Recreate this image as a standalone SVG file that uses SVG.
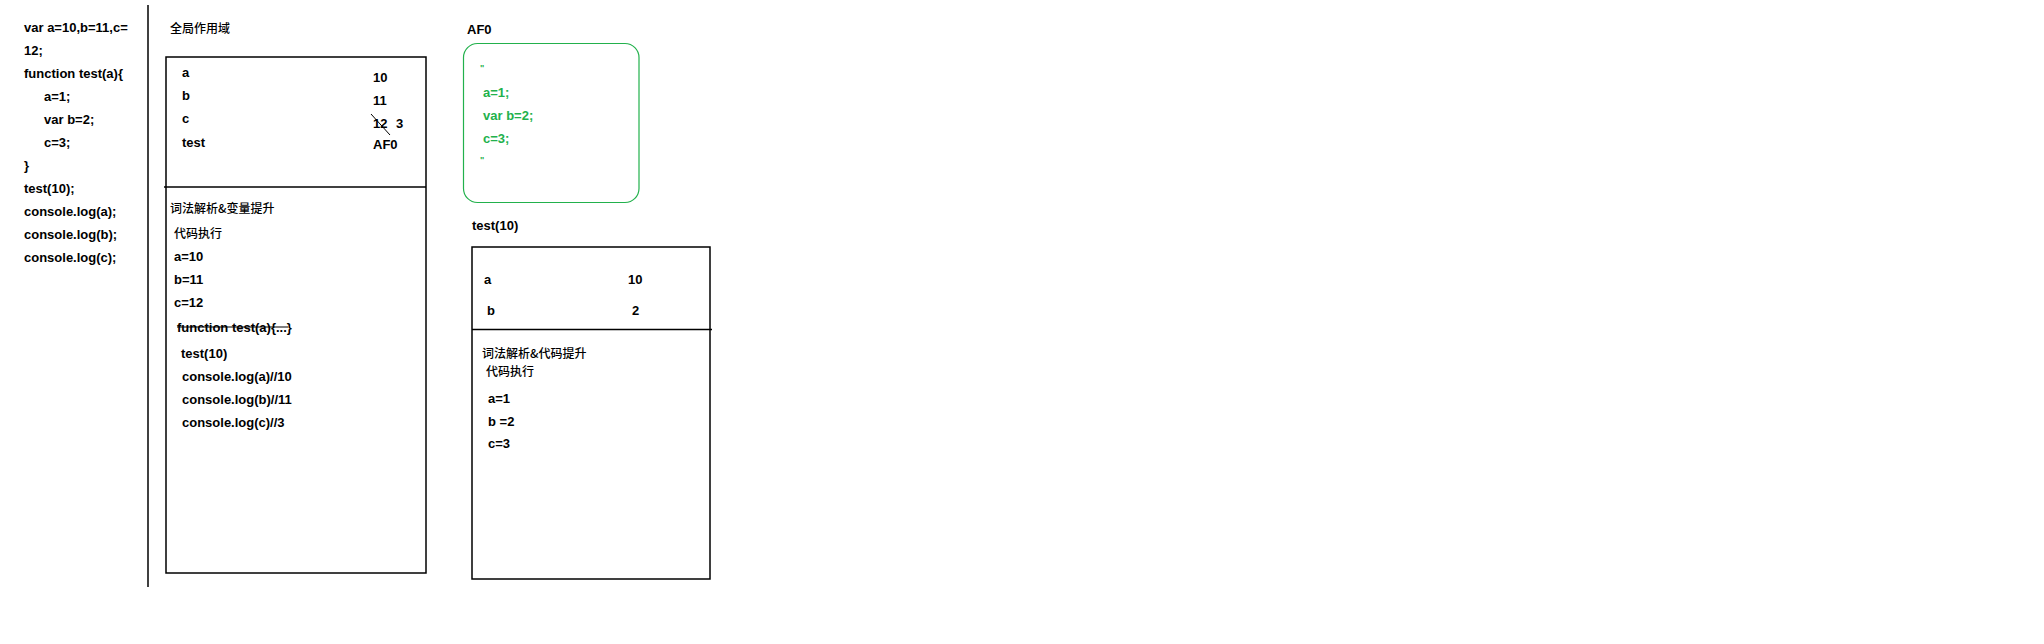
<svg xmlns="http://www.w3.org/2000/svg" width="2044" height="644" viewBox="0 0 2044 644">
  <style>
    .c { font-family: "Liberation Sans", Arial, sans-serif; font-size: 13px; font-weight: bold; fill: #000; }
    .cjk { font-family: "Noto Sans CJK SC", "Liberation Sans", sans-serif; font-size: 12px; font-weight: 500; fill: #000; }
    .g { fill: #22b14c; }
    .box { fill: none; stroke: #000; stroke-width: 1.5; }
    .ln { stroke: #000; stroke-width: 1.5; fill: none; }
    .q { font-family: "Liberation Sans", Arial, sans-serif; font-size: 9px; font-weight: bold; fill: #22b14c; }
  </style>
  <rect x="0" y="0" width="2044" height="644" fill="#fff"/>

  <g id="source-code">
    <text class="c" x="24" y="32">var a=10,b=11,c=</text>
    <text class="c" x="24" y="55">12;</text>
    <text class="c" x="24" y="78">function test(a){</text>
    <text class="c" x="44" y="101">a=1;</text>
    <text class="c" x="44" y="124">var b=2;</text>
    <text class="c" x="44" y="147">c=3;</text>
    <text class="c" x="24" y="170">}</text>
    <text class="c" x="24" y="193">test(10);</text>
    <text class="c" x="24" y="216">console.log(a);</text>
    <text class="c" x="24" y="239">console.log(b);</text>
    <text class="c" x="24" y="262">console.log(c);</text>
  </g>

  <g id="separator">
    <line class="ln" x1="148" y1="5" x2="148" y2="587"/>
  </g>

  <g id="global-scope">
    <text class="cjk" x="170" y="33">全局作用域</text>
    <rect class="box" x="166" y="57" width="260" height="516"/>
    <line class="ln" x1="164" y1="187" x2="426" y2="187"/>
    <text class="c" x="182" y="77">a</text>
    <text class="c" x="182" y="100">b</text>
    <text class="c" x="182" y="123">c</text>
    <text class="c" x="182" y="147">test</text>
    <text class="c" x="373" y="82">10</text>
    <text class="c" x="373" y="105">11</text>
    <text class="c" x="373" y="128">12</text>
    <text class="c" x="396" y="128">3</text>
    <line x1="371" y1="114" x2="390" y2="135" stroke="#000" stroke-width="1"/>
    <text class="c" x="373" y="149">AF0</text>
    <text class="cjk" x="170" y="213">词法解析&amp;变量提升</text>
    <text class="cjk" x="174" y="238">代码执行</text>
    <text class="c" x="174" y="261">a=10</text>
    <text class="c" x="174" y="284">b=11</text>
    <text class="c" x="174" y="307">c=12</text>
    <text class="c" x="177" y="332">function test(a){...}</text>
    <line x1="177" y1="327" x2="288" y2="327" stroke="#000" stroke-width="1.2"/>
    <text class="c" x="181" y="358">test(10)</text>
    <text class="c" x="182" y="381">console.log(a)//10</text>
    <text class="c" x="182" y="404">console.log(b)//11</text>
    <text class="c" x="182" y="427">console.log(c)//3</text>
  </g>

  <g id="af0">
    <text class="c" x="467" y="34">AF0</text>
    <rect x="463.5" y="43.5" width="175.5" height="159" rx="14" ry="14" fill="none" stroke="#22b14c" stroke-width="1.2"/>
    <text class="q" x="480" y="71">"</text>
    <text class="c g" x="483" y="97">a=1;</text>
    <text class="c g" x="483" y="120">var b=2;</text>
    <text class="c g" x="483" y="143">c=3;</text>
    <text class="q" x="480" y="163">"</text>
  </g>

  <g id="test10">
    <text class="c" x="472" y="230">test(10)</text>
    <rect class="box" x="472" y="247" width="238" height="332"/>
    <line class="ln" x1="472" y1="329.5" x2="712" y2="329.5"/>
    <text class="c" x="484" y="284">a</text>
    <text class="c" x="628" y="284">10</text>
    <text class="c" x="487" y="315">b</text>
    <text class="c" x="632" y="315">2</text>
    <text class="cjk" x="482" y="358">词法解析&amp;代码提升</text>
    <text class="cjk" x="486" y="376">代码执行</text>
    <text class="c" x="488" y="403">a=1</text>
    <text class="c" x="488" y="426">b =2</text>
    <text class="c" x="488" y="448">c=3</text>
  </g>
</svg>
